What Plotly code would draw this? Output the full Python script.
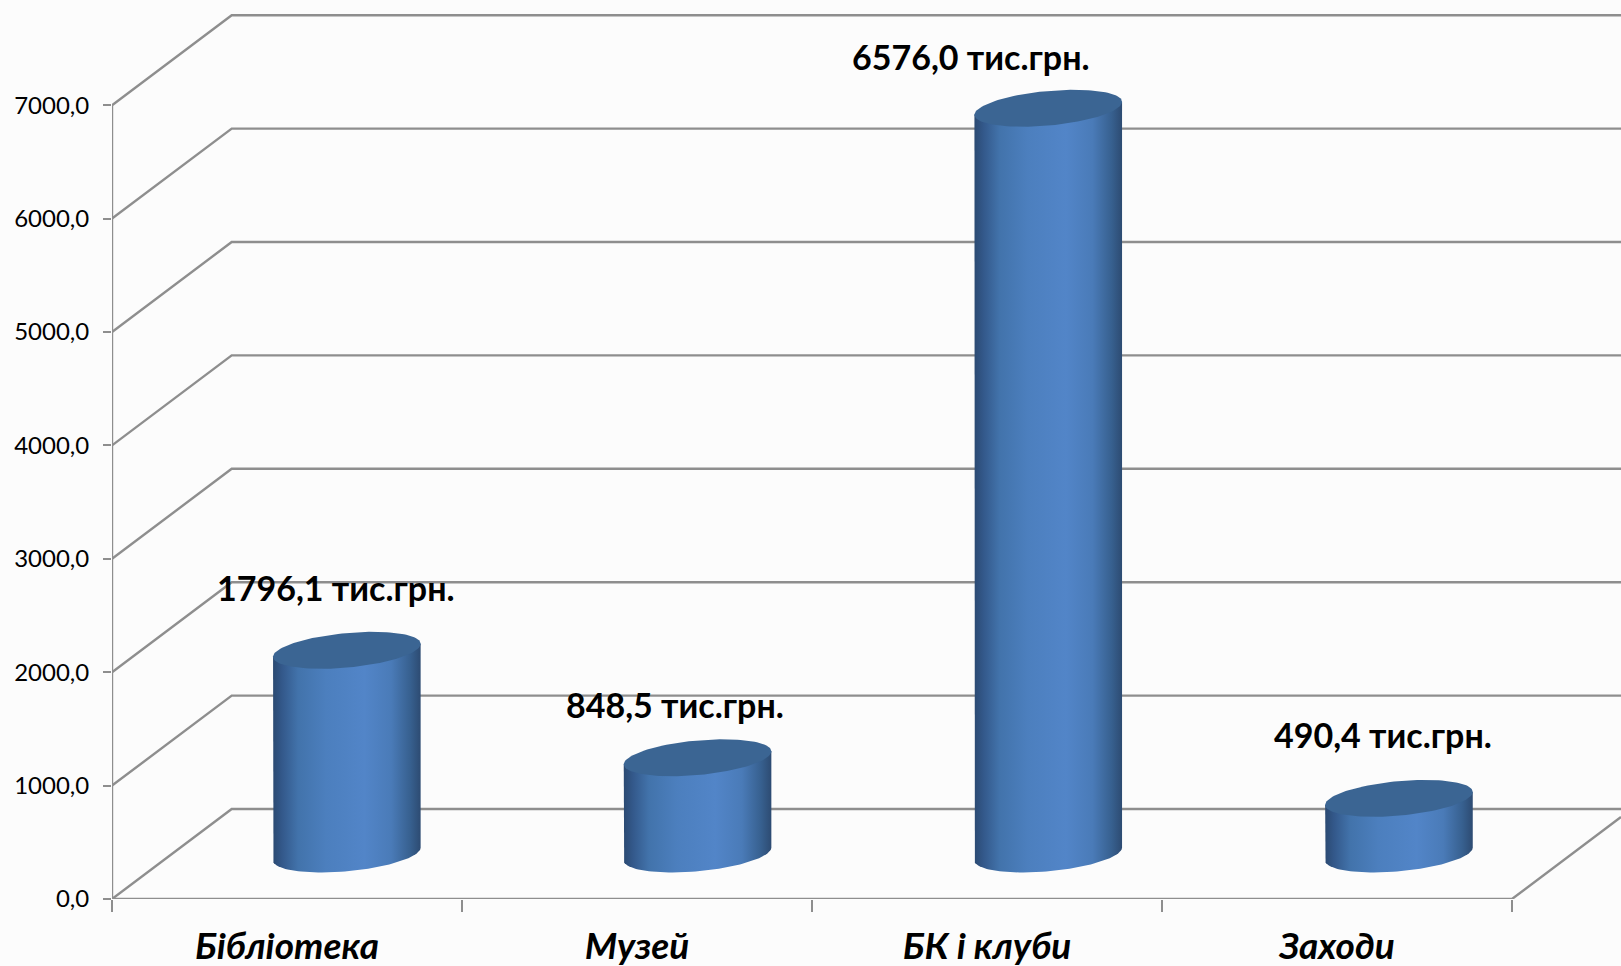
import numpy as np
import plotly.graph_objects as go

categories = ["Бібліотека", "Музей", "БК і клуби", "Заходи"]
values = [1796.1, 848.5, 6576.0, 490.4]
value_labels = ["1796,1 тис.грн.", "848,5 тис.грн.", "6576,0 тис.грн.", "490,4 тис.грн."]
y_ticks = [0, 1000, 2000, 3000, 4000, 5000, 6000, 7000]
y_tick_labels = ["0,0", "1000,0", "2000,0", "3000,0", "4000,0", "5000,0", "6000,0", "7000,0"]

W, H = 1621, 966
LEFT, BOTTOM = 112, 67
PX_X = 350.0          # pixels per category
PX_Y = 0.1134         # pixels per value unit
X_MAX = (W - LEFT) / PX_X
Y_MAX = (H - BOTTOM) / PX_Y
DEPTH_X = 119.7 / PX_X
DEPTH_Y = 90 / PX_Y
A = 73.8 / PX_X       # cylinder half width
SHEAR = 6.5 / PX_Y    # rise of the ellipse's right end
B = 17.3 / PX_Y       # ellipse half height
CYL_STEP = 350.7 / PX_X
GRID = "#8e8e8e"
FONT = "Lato, Carlito, 'Open Sans', sans-serif"
BG = "#fcfcfc"

# label offsets from the top of each cylinder, in pixels
label_dx = [-11, -23, -77, -16]
label_dy = [63, 53, 52, 64]

fig = go.Figure()


def line(xs, ys):
    fig.add_trace(go.Scatter(x=xs, y=ys, mode="lines", cliponaxis=False, hoverinfo="skip",
                             line=dict(color=GRID, width=2.4)))


for v in y_ticks:
    line([0, DEPTH_X, X_MAX], [v, v + DEPTH_Y, v + DEPTH_Y])
line([0, 0], [0, y_ticks[-1]])
line([0, 4, X_MAX], [0, 0, (X_MAX - 4) * DEPTH_Y / DEPTH_X])

GRADIENT = [[0, "#2b4a72"], [0.06, "#33588a"], [0.17, "#4273ab"], [0.36, "#4c7fbe"],
            [0.62, "#5285c8"], [0.8, "#4a7bb8"], [0.93, "#37608f"], [1, "#2d4b72"]]

for i, v in enumerate(values):
    cx = i * CYL_STEP + 0.5 + DEPTH_X / 2
    base = DEPTH_Y / 2
    top = base + v
    t = np.linspace(np.pi, 2 * np.pi, 60)
    bx = cx + A * np.cos(t)
    by = base + SHEAR * np.cos(t) + B * np.sin(t)
    fig.add_trace(go.Scatter(
        x=np.r_[cx - A, bx, cx + A, cx - A],
        y=np.r_[top - SHEAR, by, top + SHEAR, top - SHEAR],
        mode="lines", fill="toself", line=dict(width=0), hoverinfo="skip", cliponaxis=False,
        fillgradient=dict(type="horizontal", colorscale=GRADIENT)))
    t2 = np.linspace(0, 2 * np.pi, 120)
    fig.add_trace(go.Scatter(
        x=cx + A * np.cos(t2),
        y=top + SHEAR * np.cos(t2) + B * np.sin(t2),
        mode="lines", fill="toself", fillcolor="#3b6593", line=dict(width=0, color="#3b6593"),
        hoverinfo="skip", cliponaxis=False))
    fig.add_annotation(x=cx + label_dx[i] / PX_X, y=top + label_dy[i] / PX_Y,
                       text="<b>" + value_labels[i] + "</b>", showarrow=False,
                       xanchor="center", yanchor="middle",
                       font=dict(family=FONT, size=34, color="#000000"))

fig.update_layout(
    width=W, height=H, autosize=False, showlegend=False,
    paper_bgcolor=BG, plot_bgcolor=BG,
    margin=dict(l=LEFT, r=0, t=0, b=BOTTOM, autoexpand=False),
    xaxis=dict(range=[0, X_MAX], showgrid=False, zeroline=False, showline=False,
               tickmode="array", tickvals=[i + 0.5 for i in range(4)],
               ticktext=["<b><i>" + c + "</i></b>" for c in categories],
               ticks="", ticklabelstandoff=22, fixedrange=True,
               tickfont=dict(family=FONT, size=37, color="#000000"),
               minor=dict(tickmode="array", tickvals=[0, 1, 2, 3, 4], ticks="outside",
                          ticklen=12, tickwidth=2.4, tickcolor=GRID, showgrid=False)),
    yaxis=dict(range=[0, Y_MAX], showgrid=False, zeroline=False, showline=False,
               tickmode="array", tickvals=y_ticks,
               ticktext=y_tick_labels, ticks="outside", ticklen=8, tickwidth=2.4, tickcolor=GRID,
               ticklabelstandoff=9, fixedrange=True,
               tickfont=dict(family=FONT, size=24, color="#000000")),
)

fig.write_html("out.html", config={"displayModeBar": False},
               post_script="document.body.style.margin='0';document.documentElement.style.background='%s';" % BG)
